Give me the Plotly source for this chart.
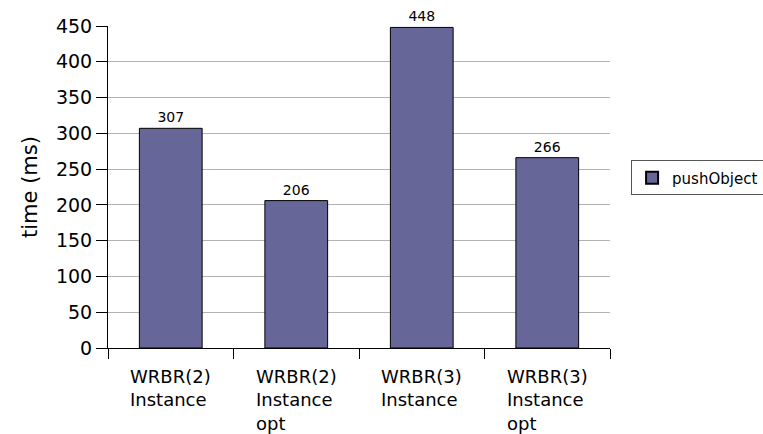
import plotly.graph_objects as go

categories = ["WRBR(2)<br>Instance", "WRBR(2)<br>Instance<br>opt", "WRBR(3)<br>Instance", "WRBR(3)<br>Instance<br>opt"]
series_name = "pushObject"
values = [307, 206, 448, 266]
y_ticks = [0, 50, 100, 150, 200, 250, 300, 350, 400, 450]

font_family = "DejaVu Sans, Verdana, sans-serif"

fig = go.Figure()
fig.add_trace(go.Bar(
    x=categories,
    y=values,
    name=series_name,
    width=0.5,
    marker=dict(color="#666699", line=dict(color="#000000", width=1)),
    text=[str(v) for v in values],
    textposition="outside",
    textfont=dict(size=14, color="#000000", family=font_family),
    cliponaxis=False,
    showlegend=True,
))

# Category labels drawn as left-aligned multi-line annotations under each bar
for cat in categories:
    fig.add_annotation(
        x=cat, xref="x", y=0, yref="paper",
        text=cat, showarrow=False,
        xanchor="center", yanchor="top", align="left",
        yshift=-16,
        font=dict(size=18, family=font_family, color="#000000"),
    )

fig.update_layout(
    width=763,
    height=434,
    margin=dict(l=108, r=153, t=26, b=86, autoexpand=False),
    paper_bgcolor="white",
    plot_bgcolor="white",
    font=dict(family=font_family, color="#000000"),
    showlegend=True,
    legend=dict(
        x=1.042, y=0.528, xanchor="left", yanchor="middle",
        bordercolor="#555555", borderwidth=1,
        font=dict(size=15, family=font_family),
        itemsizing="constant",
    ),
    xaxis=dict(
        type="category",
        showline=True, linecolor="#000000", linewidth=1,
        ticks="outside", tickson="boundaries", ticklen=10, tickcolor="#000000",
        showticklabels=False,
        showgrid=False,
    ),
    yaxis=dict(
        range=[0, 450],
        tickvals=y_ticks,
        showline=True, linecolor="#000000", linewidth=1,
        ticks="outside", ticklen=11, tickcolor="#000000",
        tickfont=dict(size=19, family=font_family),
        showgrid=True, gridcolor="#b3b3b3", gridwidth=1,
        zeroline=False,
        title=dict(text="time (ms)", font=dict(size=21, family=font_family), standoff=12),
    ),
)

fig.write_html("out.html")
